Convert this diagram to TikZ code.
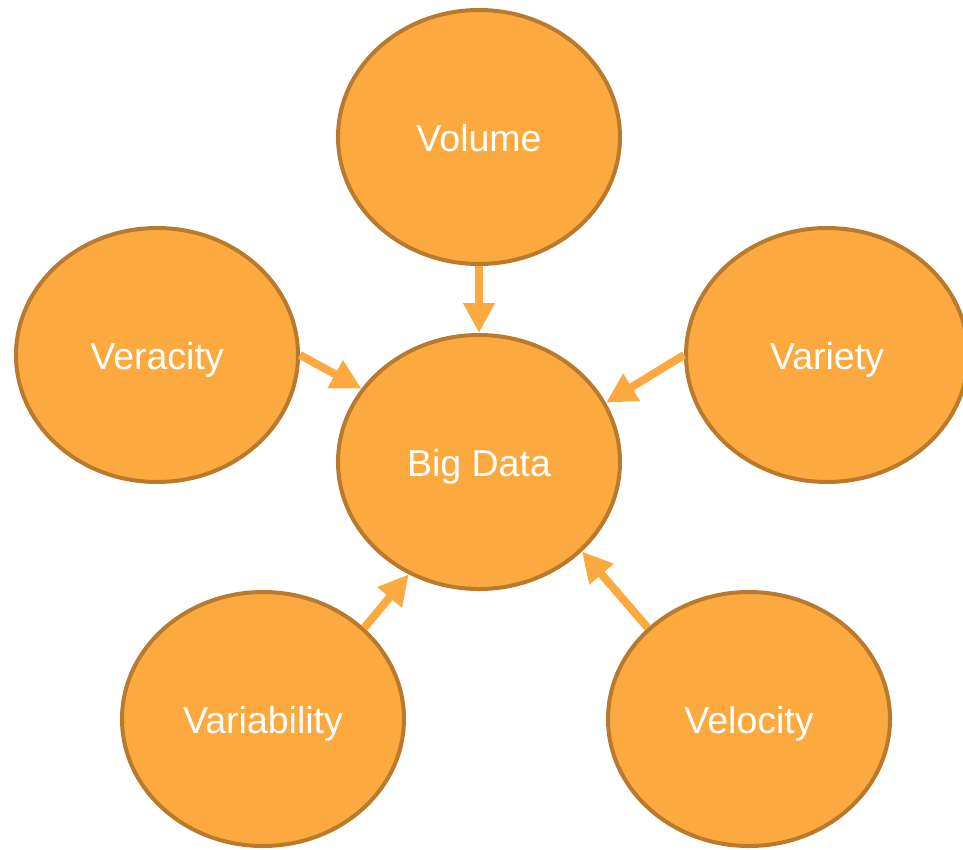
\documentclass[tikz,border=0pt]{standalone}
\usepackage{fontspec}
\setmainfont{Liberation Sans}
\usetikzlibrary{shapes.geometric,arrows.meta}
\definecolor{vfill}{RGB}{252,170,64}
\definecolor{vedge}{RGB}{185,122,46}
\begin{document}
\begin{tikzpicture}[x=1pt,y=-1pt,
    vcircle/.style={ellipse,draw=vedge,fill=vfill,line width=4pt,
      minimum width=282pt,minimum height=254pt,text=white,
      text height=28pt,text depth=0pt,
      font=\fontsize{37.5}{42}\selectfont},
    varrow/.style={draw=vfill,line width=8pt,-{Triangle[width=30pt,length=30pt]}}]
    \useasboundingbox (0,0) rectangle (963,849);
    \node[vcircle] (volume) at (479,137) {Volume};
    \node[vcircle] (bigdata) at (479,462) {Big Data};
    \node[vcircle] (veracity) at (157,355) {Veracity};
    \node[vcircle] (variety) at (827,355) {Variety};
    \node[vcircle] (variability) at (263,719) {Variability};
    \node[vcircle] (velocity) at (749,719) {Velocity};
    \draw[varrow] (volume.south) -- (bigdata.north);
    \draw[varrow] (veracity.east) -- (bigdata.148);
    \draw[varrow] (variety.west) -- (bigdata.25);
    \draw[varrow] (variability.42) -- (bigdata.238);
    \draw[varrow] (velocity.138) -- (bigdata.319);
  \end{tikzpicture}
\end{document}
